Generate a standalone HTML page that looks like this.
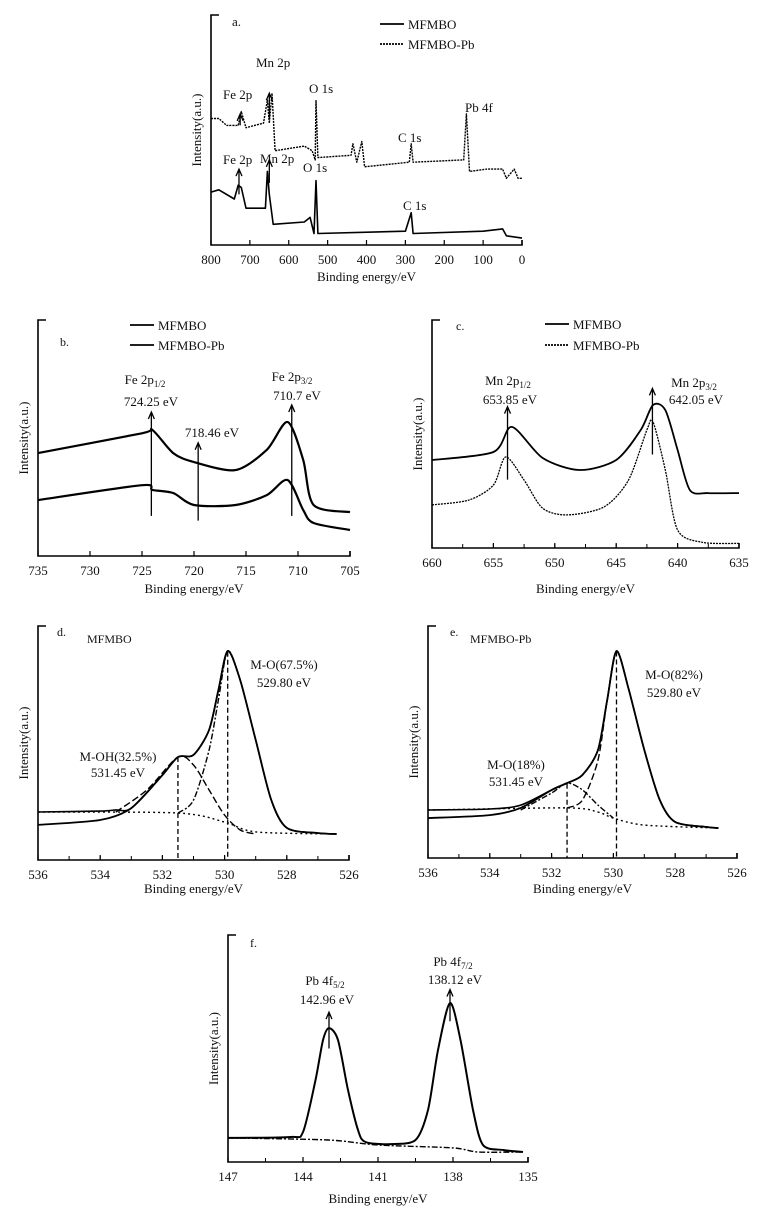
<!DOCTYPE html>
<html><head><meta charset="utf-8"><style>
body{margin:0;background:#fff}
svg{display:block}
text{font-family:"Liberation Serif",serif;fill:#111}
</style></head><body>
<svg id="c" width="761" height="1217" xmlns="http://www.w3.org/2000/svg"></svg>
<script>
// Panel a: survey
const aX1=[800,780,740,730,722,710,660,655,650,640,560,545,535,530,525,300,285,280,100,50,40,0];
const aY1=[23,24,20,26,25,16,16,32,22,9,10,12,5,28,5,6,14,5,6,7,4,3];
const aX2=[800,780,760,730,722,710,665,655,650,643,635,560,540,532,530,525,440,435,425,412,405,290,285,280,150,143,135,90,50,40,20,10,0];
const aY2=[55,55,52,52,58,51,53,63,53,66,41,43,41,37,63,38,39,44,36,45,34,36,44,36,37,57,32,33,33,29,33,29,29];
// Panel b: Fe 2p
const bX=[735,725,724,722,720,716,713,711,709.5,708.5,705];
const bY1=[43.6,52,53.4,43.6,39.8,36.4,45,56.8,40.7,21.6,18.6];
const bY2=[23.7,30,28,26.7,21.6,21.6,25.8,32.2,19.5,14,11];
// Panel c: Mn 2p
const cX1=[660,655,653.5,651,648,645,643,642,641,640,639,637.5,635];
const cY1=[38.6,42.1,53.1,39.5,34.2,38.6,51.8,62.7,60.5,43,25.4,24.1,24.1];
const cX2=[660,657,655,654,652.5,651,649,646,644,642.5,642,641,640,638,635];
const cY2=[18.9,21,27.6,39.9,29.8,17.5,14.5,18,29.8,51.8,55.3,34.2,7.9,2.5,2];
// Panel d: O 1s MFMBO
const dXraw=[536,534,533,532,531.5,531,530.5,530.2,529.9,529.5,529,528.5,528,527,526.4];
const dYraw=[15,17.1,22.2,36.3,44,44.9,55.6,72.6,89.3,76.9,51.3,25.6,13.7,11.5,11.1];
const dXenv=[536,534,533.5,533,532,531.5,531,530.5,530.2,529.9,529.5,529,528.5,528,527,526.4];
const dYenv=[20.5,20.9,21.4,22.2,36.3,44,44.9,55.6,72.6,89.3,76.9,51.3,25.6,13.7,11.5,11.1];
const dXbg=[536,531.5,530,529,526.4];
const dYbg=[20.5,20.1,16.2,12,11.1];
const dXc1=[533.5,532.5,531.5,531,530.5,530,529.5,529];
const dYc1=[20.5,29.9,44,40.6,29.9,19.2,12.8,11.1];
const dXc2=[531.5,531,530.5,530.2,529.9,529.5,529,528.5,528,527];
const dYc2=[20.1,25.6,47,68.4,89.3,76.9,51.3,25.6,13.7,11.5];
// Panel e: O 1s MFMBO-Pb
const eXraw=[536,534,533,532,531.5,531,530.5,530.2,529.9,529.5,529,528.5,528,527,526.6];
const eYraw=[17.2,18.5,21.6,29.3,32.3,35.8,46.6,68.1,89.2,72.4,46.6,25,15.5,13.4,12.9];
const eXenv=[536,534,533,532,531.5,531,530.5,530.2,529.9,529.5,529,528.5,528,527,526.6];
const eYenv=[20.7,21.1,22.8,29.3,32.3,35.8,46.6,68.1,89.2,72.4,46.6,25,15.5,13.4,12.9];
const eXbg=[536,531.5,530.5,530,529,526.6];
const eYbg=[20.7,21.6,19.8,17.2,14.2,12.9];
const eXc1=[533,532,531.5,531,530.5,530];
const eYc1=[20.7,28,32.3,29.3,22.8,17.2];
const eXc2=[531.5,531,530.5,530.2,529.9,529.5,529,528.5,528,527];
const eYc2=[21.6,25,42.2,68.1,89.2,72.4,46.6,25,15.5,13.4];
// Panel f: Pb 4f
const fX=[147,144.5,144,143.5,143.2,142.96,142.6,142.2,141.8,141.5,140.5,139.5,139,138.6,138.12,137.7,137.2,136.8,136,135.2];
const fY=[10.6,11,13.2,36.1,53.7,59,53.7,31.7,14.1,8.8,7.9,9.7,22.9,49.3,70,53.7,22.9,7.5,5.3,4.4];
const fXbg=[147,143,141,138,137,135.2];
const fYbg=[10.6,9.7,7.5,6.2,4.4,4.4];

const svg=document.getElementById('c');
const NS='http://www.w3.org/2000/svg';
function el(tag,attrs,parent){const e=document.createElementNS(NS,tag);for(const k in attrs)e.setAttribute(k,attrs[k]);(parent||svg).appendChild(e);return e;}
function txt(x,y,s,size,anchor,name,parent){const t=el('text',{x:x,y:y,'font-size':size||13,'text-anchor':anchor||'start'},parent);t.innerHTML=s;return t;}
function panel(name,x0,x1,L,R,T,B,ticks,minor,xlabelY){
  const g=el('g',{});
  
  
  const sx=v=>L+(v-x0)/(x1-x0)*(R-L);
  const sy=v=>B-v/100*(B-T);
  const ax=el('path',{d:`M${L+8},${T} H${L} V${B} H${R} V${B-5}`,fill:'none',stroke:'#000','stroke-width':1.6},g);
  
  
  minor.forEach(v=>{const t=el('line',{x1:sx(v),x2:sx(v),y1:B,y2:B-4,stroke:'#000','stroke-width':1},g);
    });
  ticks.forEach(v=>{const t=el('line',{x1:sx(v),x2:sx(v),y1:B,y2:B-5,stroke:'#000','stroke-width':1.2},g);
    
    txt(sx(v),B+19,String(v),13,'middle','x-tick-label',g);});
  txt((L+R)/2,xlabelY,'Binding energy/eV',13,'middle','x-axis-title',g);
  const yl=txt(0,0,'Intensity(a.u.)',13,'middle','y-axis-title',g);
  yl.setAttribute('transform',`translate(${L-10},${(T+B)/2}) rotate(-90)`);
  return {g,sx,sy};
}
function line(p,X,Y,name,w,dash,sharp){
  const P=X.map((x,i)=>[p.sx(x),p.sy(Y[i])]);
  let d='M'+P[0][0].toFixed(1)+','+P[0][1].toFixed(1);
  const k=sharp?0:0.14;
  for(let i=0;i<P.length-1;i++){
    const p0=P[Math.max(0,i-1)],p1=P[i],p2=P[i+1],p3=P[Math.min(P.length-1,i+2)];
    const c1=[p1[0]+(p2[0]-p0[0])*k,p1[1]+(p2[1]-p0[1])*k];
    const c2=[p2[0]-(p3[0]-p1[0])*k,p2[1]-(p3[1]-p1[1])*k];
    d+=` C${c1[0].toFixed(1)},${c1[1].toFixed(1)} ${c2[0].toFixed(1)},${c2[1].toFixed(1)} ${p2[0].toFixed(1)},${p2[1].toFixed(1)}`;
  }
  const a={d:d,fill:'none',stroke:'#000','stroke-width':w||1.6,'stroke-linejoin':'round'};
  if(dash)a['stroke-dasharray']=dash;
  const e=el('path',a,p.g);
  
  
}
function arrow(p,x,y1,y2,name){
  const X=p.sx(x),A=p.sy(y1),Bv=p.sy(y2);
  const e=el('path',{d:`M${X},${A} V${Bv} M${X-3},${Bv+7} L${X},${Bv} L${X+3},${Bv+7}`,fill:'none',stroke:'#000','stroke-width':1.3},p.g);
  
  
}
function vdash(p,x,yTop,name){
  const e=el('line',{x1:p.sx(x),x2:p.sx(x),y1:p.sy(yTop),y2:p.sy(0),stroke:'#000','stroke-width':1.3,'stroke-dasharray':'5,3'},p.g);
  
  
}
function legend(g,x,y,label,dash,name){
  const a={x1:x,x2:x+24,y1:y,y2:y,stroke:'#000','stroke-width':1.8};
  if(dash)a['stroke-dasharray']=dash;
  const l=el('line',a,g);
  
  
  txt(x+28,y+5,label,13,'start',name,g);
}
function range(a,b,s){const r=[];for(let v=a;s>0?v<=b+1e-9:v>=b-1e-9;v+=s)r.push(+v.toFixed(2));return r;}

// a
const pa=panel('panel-a-survey',800,0,211,522,15,245,range(800,0,-100),[],281);
line(pa,aX1,aY1,'mfmbo-line',1.6,null,true);
line(pa,aX2,aY2,'mfmbo-pb-line',1.4,'2,1',true);
txt(232,26,'a.',13,'start','panel-a-label',pa.g);
legend(pa.g,380,24,'MFMBO','', 'legend-mfmbo');
legend(pa.g,380,44,'MFMBO-Pb','2,1','legend-mfmbo-pb');
txt(223,99,'Fe 2p',13,'start','fe2p-label-pb',pa.g);
txt(256,67,'Mn 2p',13,'start','mn2p-label-pb',pa.g);
txt(309,93,'O 1s',13,'start','o1s-label-pb',pa.g);
txt(465,112,'Pb 4f',13,'start','pb4f-label',pa.g);
txt(398,142,'C 1s',13,'start','c1s-label-pb',pa.g);
txt(223,164,'Fe 2p',13,'start','fe2p-label',pa.g);
txt(260,163,'Mn 2p',13,'start','mn2p-label',pa.g);
txt(303,172,'O 1s',13,'start','o1s-label',pa.g);
txt(403,210,'C 1s',13,'start','c1s-label',pa.g);
arrow(pa,725,52,57,'fe-arrow-pb');arrow(pa,650,55,66,'mn-arrow-pb');
arrow(pa,728,22,33,'fe-arrow');arrow(pa,650,27,37,'mn-arrow');

// b
const pb=panel('panel-b-fe2p',735,705,38,350,320,556,range(735,705,-5),[],593);
line(pb,bX,bY1,'mfmbo-line',2.2);
line(pb,bX,bY2,'mfmbo-pb-line',2.2);
txt(60,346,'b.',12,'start','panel-b-label',pb.g);
legend(pb.g,130,325,'MFMBO','', 'legend-mfmbo');
legend(pb.g,130,345,'MFMBO-Pb','','legend-mfmbo-pb');
arrow(pb,724.1,17,61,'arrow-724');arrow(pb,719.6,15,48,'arrow-718');arrow(pb,710.6,17,64,'arrow-710');
txt(145,384,'Fe 2p<tspan font-size="9" dy="3">1/2</tspan>',13,'middle','fe2p12-label',pb.g);
txt(151,406,'724.25 eV',13,'middle','fe2p12-value',pb.g);
txt(212,437,'718.46 eV',13,'middle','satellite-value',pb.g);
txt(292,381,'Fe 2p<tspan font-size="9" dy="3">3/2</tspan>',13,'middle','fe2p32-label',pb.g);
txt(297,400,'710.7 eV',13,'middle','fe2p32-value',pb.g);

// c
const pc=panel('panel-c-mn2p',660,635,432,739,320,548,range(660,635,-5),range(660,635,-2.5),593);
line(pc,cX1,cY1,'mfmbo-line',1.8);
line(pc,cX2,cY2,'mfmbo-pb-line',1.3,'2,1');
txt(456,330,'c.',12,'start','panel-c-label',pc.g);
legend(pc.g,545,324,'MFMBO','', 'legend-mfmbo');
legend(pc.g,545,345,'MFMBO-Pb','2,1','legend-mfmbo-pb');
arrow(pc,653.85,30,62,'arrow-653');arrow(pc,642.05,41,70,'arrow-642');
txt(508,385,'Mn 2p<tspan font-size="9" dy="3">1/2</tspan>',13,'middle','mn2p12-label',pc.g);
txt(510,404,'653.85 eV',13,'middle','mn2p12-value',pc.g);
txt(694,387,'Mn 2p<tspan font-size="9" dy="3">3/2</tspan>',13,'middle','mn2p32-label',pc.g);
txt(696,404,'642.05 eV',13,'middle','mn2p32-value',pc.g);

// d
const pd=panel('panel-d-o1s',536,526,38,349,626,860,range(536,526,-2),range(536,526,-1),893);
line(pd,dXraw,dYraw,'raw-spectrum',1.8);
line(pd,dXenv,dYenv,'fit-envelope',1.6);
line(pd,dXbg,dYbg,'background',1.4,'2,3');
line(pd,dXc1,dYc1,'m-oh-component',1.4,'7,3');
line(pd,dXc2,dYc2,'m-o-component',1.4,'6,2,2,2');
vdash(pd,531.5,44,'m-oh-position');vdash(pd,529.9,89,'m-o-position');
txt(57,636,'d.',12,'start','panel-d-label',pd.g);
txt(87,643,'MFMBO',12,'start','panel-d-sample',pd.g);
txt(284,669,'M-O(67.5%)',13,'middle','m-o-label',pd.g);
txt(284,687,'529.80 eV',13,'middle','m-o-value',pd.g);
txt(118,761,'M-OH(32.5%)',13,'middle','m-oh-label',pd.g);
txt(118,777,'531.45 eV',13,'middle','m-oh-value',pd.g);

// e
const pe=panel('panel-e-o1s',536,526,428,737,626,858,range(536,526,-2),range(536,526,-1),893);
line(pe,eXraw,eYraw,'raw-spectrum',1.8);
line(pe,eXenv,eYenv,'fit-envelope',1.6);
line(pe,eXbg,eYbg,'background',1.4,'2,3');
line(pe,eXc1,eYc1,'m-o-18-component',1.4,'6,2,2,2');
line(pe,eXc2,eYc2,'m-o-82-component',1.4,'7,3');
vdash(pe,531.5,32,'m-o-18-position');vdash(pe,529.9,89,'m-o-82-position');
txt(450,636,'e.',12,'start','panel-e-label',pe.g);
txt(470,643,'MFMBO-Pb',12,'start','panel-e-sample',pe.g);
txt(674,679,'M-O(82%)',13,'middle','m-o-82-label',pe.g);
txt(674,697,'529.80 eV',13,'middle','m-o-82-value',pe.g);
txt(516,769,'M-O(18%)',13,'middle','m-o-18-label',pe.g);
txt(516,786,'531.45 eV',13,'middle','m-o-18-value',pe.g);

// f
const pf=panel('panel-f-pb4f',147,135,228,528,935,1162,range(147,135,-3),range(147,135,-1.5),1203);
line(pf,fX,fY,'pb4f-spectrum',2);
line(pf,fXbg,fYbg,'background',1.4,'6,2,2,2');
arrow(pf,142.96,50,66,'arrow-142');arrow(pf,138.12,62,76,'arrow-138');
txt(250,947,'f.',12,'start','panel-f-label',pf.g);
txt(325,985,'Pb 4f<tspan font-size="9" dy="3">5/2</tspan>',13,'middle','pb4f52-label',pf.g);
txt(327,1004,'142.96 eV',13,'middle','pb4f52-value',pf.g);
txt(453,966,'Pb 4f<tspan font-size="9" dy="3">7/2</tspan>',13,'middle','pb4f72-label',pf.g);
txt(455,984,'138.12 eV',13,'middle','pb4f72-value',pf.g);
</script>
</body></html>
